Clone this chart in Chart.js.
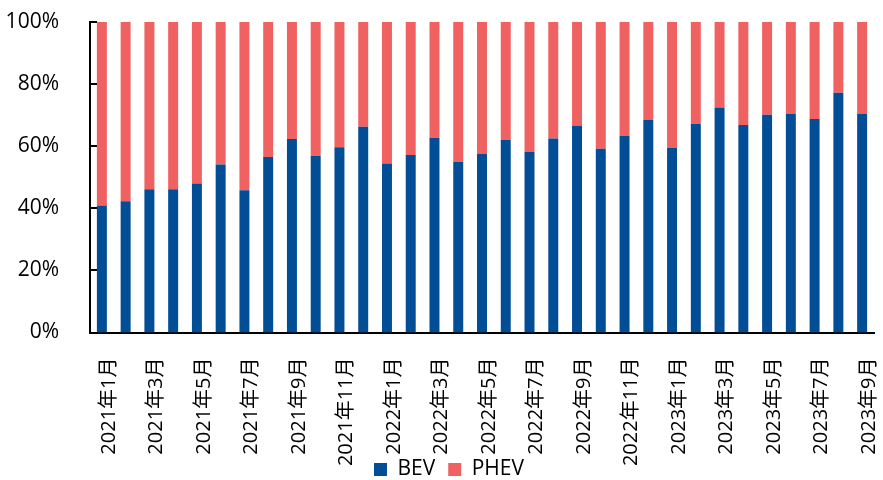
<!DOCTYPE html>
<html>
<head>
<meta charset="utf-8">
<script src="https://cdn.jsdelivr.net/npm/chart.js@4.4.1/dist/chart.umd.min.js"></script>
<style>
  html, body { margin: 0; padding: 0; background: #fff; }
  #wrap { width: 883px; height: 480px; }
</style>
</head>
<body>
<div id="wrap"><canvas id="c" width="883" height="480"></canvas></div>
<script>
// Monthly categories, Jan 2021 – Sep 2023
const months = [
  '2021年1月','2021年2月','2021年3月','2021年4月','2021年5月','2021年6月',
  '2021年7月','2021年8月','2021年9月','2021年10月','2021年11月','2021年12月',
  '2022年1月','2022年2月','2022年3月','2022年4月','2022年5月','2022年6月',
  '2022年7月','2022年8月','2022年9月','2022年10月','2022年11月','2022年12月',
  '2023年1月','2023年2月','2023年3月','2023年4月','2023年5月','2023年6月',
  '2023年7月','2023年8月','2023年9月'
];

// Share of BEV in each month (%)
const bevShare = [
  40.9, 42.3, 46.1, 46.1, 48.0, 54.1, 45.8, 56.5, 62.3, 56.9, 59.7, 66.3,
  54.4, 57.2, 62.7, 54.9, 57.5, 62.0, 58.1, 62.5, 66.5, 59.2, 63.4, 68.5,
  59.4, 67.2, 72.5, 66.8, 70.1, 70.4, 68.8, 77.2, 70.4
];

// Share of PHEV in each month (%)
const phevShare = [
  59.1, 57.7, 53.9, 53.9, 52.0, 45.9, 54.2, 43.5, 37.7, 43.1, 40.3, 33.7,
  45.6, 42.8, 37.3, 45.1, 42.5, 38.0, 41.9, 37.5, 33.5, 40.8, 36.6, 31.5,
  40.6, 32.8, 27.5, 33.2, 29.9, 29.6, 31.2, 22.8, 29.6
];

// Y-axis ticks
const yTicks = [0, 20, 40, 60, 80, 100];

const FONT = '"Open Sans", "Noto Sans CJK SC", sans-serif';

// Axis helpers: widen the label clip boxes and draw short inward tick marks on the y axis
const axisExtras = {
  id: 'axisExtras',
  afterLayout(chart) {
    // let the long month labels run down beside the legend instead of being cut off
    chart.scales.x.bottom = chart.height;
    // and give the percentage labels the full left margin
    chart.scales.y.left = 0;
  },
  afterDatasetsDraw(chart) {
    const y = chart.scales.y;
    const ctx = chart.ctx;
    const left = chart.chartArea.left;
    ctx.save();
    ctx.strokeStyle = '#000';
    ctx.lineWidth = 2;
    y.ticks.forEach((t, i) => {
      const py = Math.round(y.getPixelForTick(i));
      ctx.beginPath();
      ctx.moveTo(left, py);
      ctx.lineTo(left + 7, py);
      ctx.stroke();
    });
    ctx.restore();
  }
};

new Chart(document.getElementById('c'), {
  type: 'bar',
  data: {
    labels: months,
    datasets: [
      { label: 'BEV', data: bevShare, backgroundColor: '#024E96', barPercentage: 0.42, categoryPercentage: 1 },
      { label: 'PHEV', data: phevShare, backgroundColor: '#F06262', barPercentage: 0.42, categoryPercentage: 1 }
    ]
  },
  options: {
    responsive: false,
    animation: false,
    devicePixelRatio: 1,
    layout: { padding: { top: 22, right: 9, left: 24, bottom: -10 } },
    plugins: {
      tooltip: { enabled: false },
      legend: {
        position: 'bottom',
        labels: {
          font: { family: FONT, size: 21 },
          color: '#000',
          boxWidth: 13,
          boxHeight: 13,
          padding: 13
        }
      }
    },
    scales: {
      x: {
        stacked: true,
        grid: { display: false },
        border: { display: true, color: '#000', width: 2 },
        afterFit: (s) => { s.height = 113.5; s.paddingLeft = 0; s.paddingRight = 0; },
        ticks: {
          autoSkip: false,
          minRotation: 90,
          maxRotation: 90,
          padding: 17,
          labelOffset: 7,
          color: '#000',
          font: { family: FONT, size: 20 },
          callback: function (v, i) { return i % 2 === 0 ? months[i] : ''; }
        }
      },
      y: {
        stacked: true,
        min: 0,
        max: 100,
        afterBuildTicks: (scale) => { scale.ticks = yTicks.map(v => ({ value: v })); },
        afterFit: (s) => { s.width = 66; s.paddingTop = 0; s.paddingBottom = 0; },
        grid: { display: false },
        border: { display: true, color: '#000', width: 2 },
        ticks: {
          padding: 23,
          color: '#000',
          font: { family: FONT, size: 21 },
          callback: (v) => v + '%'
        }
      }
    }
  },
  plugins: [axisExtras]
});
</script>
</body>
</html>
